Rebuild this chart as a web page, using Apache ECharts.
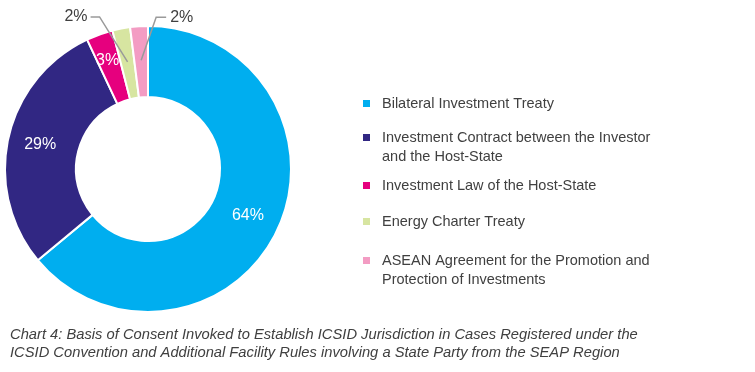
<!DOCTYPE html>
<html><head><meta charset="utf-8">
<script src="https://cdn.jsdelivr.net/npm/echarts@6/dist/echarts.min.js"></script>
<style>html,body{margin:0;padding:0;background:#fff}#c{width:755px;height:372px}</style>
</head><body><div id="c"></div>
<script>
const categories = [
  "Bilateral Investment Treaty",
  "Investment Contract between the Investor\nand the Host-State",
  "Investment Law of the Host-State",
  "Energy Charter Treaty",
  "ASEAN Agreement for the Promotion and\nProtection of Investments"
];
const values = [64, 29, 3, 2, 2];
const colors = ["#00AEEF", "#312783", "#E6007E", "#D7E5A1", "#F39CC3"];
const caption = "Chart 4: Basis of Consent Invoked to Establish ICSID Jurisdiction in Cases Registered under the\nICSID Convention and Additional Facility Rules involving a State Party from the SEAP Region";

const CX = 148, CY = 169, R0 = 72, R1 = 143;
const legendTops = [102, 136, 184, 220, 259];
const textColor = "#404040";
const FONT = '"Liberation Sans", Arial, sans-serif';

const chart = echarts.init(document.getElementById('c'), null, {renderer: 'canvas'});

const legends = categories.map((name, i) => ({
  orient: 'vertical',
  left: 356,
  top: legendTops[i] - 11,
  itemWidth: 9, itemHeight: 9, icon: 'rect',
  data: [name.split('\n')[0]],
  textStyle: {color: textColor, fontSize: 14.5, fontFamily: FONT, padding: [0,0,0,6]},
  selectedMode: false
}));

const graphics = [];
categories.forEach((name, i) => {
  const parts = name.split('\n');
  if (parts.length > 1) {
    graphics.push({type: 'text', left: 382, top: legendTops[i] + 13,
      style: {text: parts[1], fill: textColor, font: '14.5px ' + FONT}});
  }
});
graphics.push({type: 'text', left: 10, top: 326, scaleX: 0.95,
  style: {text: caption, fill: textColor, font: 'italic 15.5px ' + FONT, lineHeight: 18}});

const baseData = categories.map((name, i) => ({
  name: name.split('\n')[0], value: values[i], itemStyle: {color: colors[i]},
  label: {show: i < 3, position: 'inside', color: '#fff', fontSize: 16},
  labelLine: {show: false}
}));

const overlayData = categories.map((name, i) => ({
  name: name.split('\n')[0], value: values[i],
  label: {show: i >= 3, position: 'outside', color: textColor, fontSize: 16},
  labelLine: {show: i >= 3, lineStyle: {color: '#9a9a9a', width: 1.5}}
}));

chart.setOption({
  animation: false,
  legend: legends,
  graphic: graphics,
  series: [{
    type: 'pie',
    z: 2,
    center: [CX, CY],
    radius: [R0, R1],
    startAngle: 90,
    clockwise: true,
    avoidLabelOverlap: false,
    itemStyle: {borderColor: '#fff', borderWidth: 2},
    label: {formatter: '{c}%', fontFamily: FONT},
    labelLayout: function (p) {
      if (p.dataIndex === 2) return {dx: -3, dy: -4};
      return {};
    },
    data: baseData
  }, {
    type: 'pie',
    z: 5,
    silent: true,
    legendHoverLink: false,
    center: [CX, CY],
    radius: [R0, R1],
    startAngle: 90,
    clockwise: true,
    avoidLabelOverlap: false,
    itemStyle: {color: 'rgba(0,0,0,0)', borderWidth: 0},
    label: {formatter: '{c}%', fontFamily: FONT},
    labelLine: {length: 10, length2: 10},
    labelLayout: function (p) {
      if (p.dataIndex < 3) return {};
      const pts = p.labelLinePoints;
      if (!pts) return {};
      const p0 = pts[0];
      const k = 109 / R1;
      const s = [CX + (p0[0] - CX) * k, CY + (p0[1] - CY) * k];
      if (p.dataIndex === 3) {
        const e = [s[0] - 28, s[1] - 45];
        const f = [e[0] - 9, e[1]];
        return {x: f[0] - 3, y: f[1], align: 'right', verticalAlign: 'middle', labelLinePoints: [s, e, f]};
      } else {
        const e = [s[0] + 15, s[1] - 43];
        const f = [e[0] + 10, e[1]];
        return {x: f[0] + 4, y: f[1], align: 'left', verticalAlign: 'middle', labelLinePoints: [s, e, f]};
      }
    },
    data: overlayData
  }]
});
</script></body></html>
